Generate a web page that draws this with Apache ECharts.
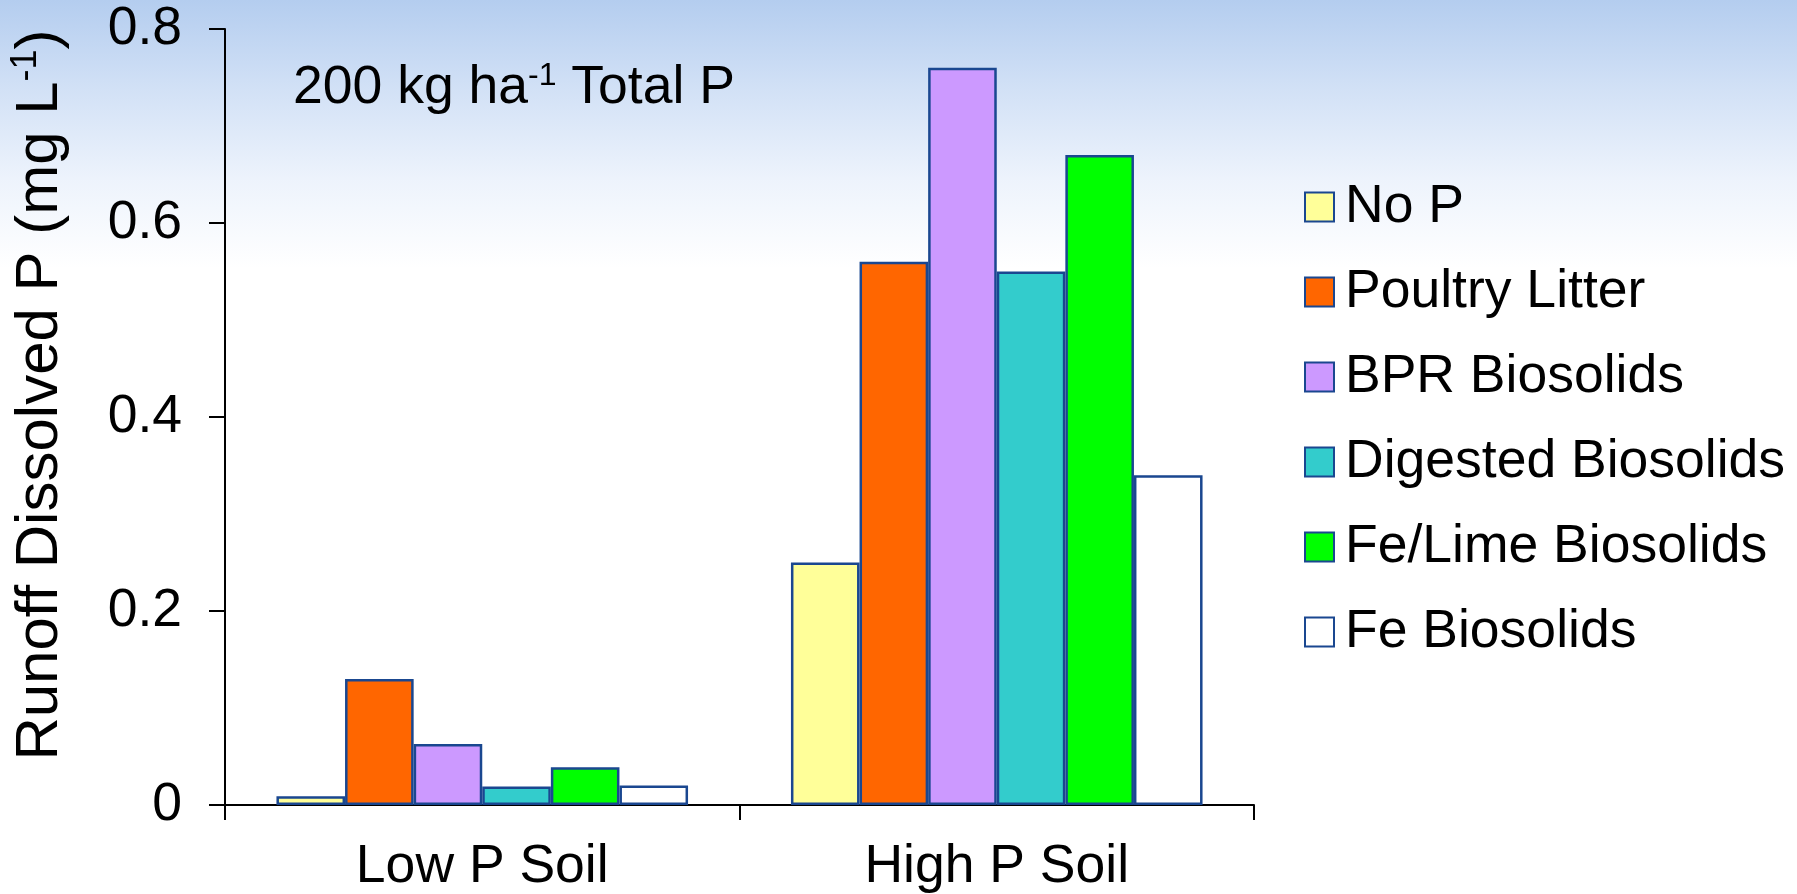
<!DOCTYPE html>
<html>
<head>
<meta charset="utf-8">
<script src="https://cdn.jsdelivr.net/npm/echarts@6/dist/echarts.min.js"></script>
<style>
html,body{margin:0;padding:0;background:#fff;}
#chart{width:1797px;height:894px;}
</style>
</head>
<body>
<div id="chart"></div>
<script>
// ---- data ----
var categories = ['Low P Soil', 'High P Soil'];
var seriesNames = ['No P', 'Poultry Litter', 'BPR Biosolids', 'Digested Biosolids', 'Fe/Lime Biosolids', 'Fe Biosolids'];
var noP       = [0.009, 0.25];
var poultry   = [0.13, 0.56];
var bpr       = [0.063, 0.76];
var digested  = [0.019, 0.55];
var feLime    = [0.039, 0.67];
var fe        = [0.02, 0.34];
var yTicks    = [0, 0.2, 0.4, 0.6, 0.8];
var seriesValues = [noP, poultry, bpr, digested, feLime, fe];
var seriesColors = ['#FFFF99', '#FF6600', '#CC99FF', '#33CCCC', '#00FF00', '#FFFFFF'];

var FONT = '"Liberation Sans", Arial, Helvetica, sans-serif';
var BORDER = '#1A4790';
var FS = 53.5;

var chart = echarts.init(document.getElementById('chart'), null, {renderer: 'canvas'});

var series = seriesNames.map(function (name, i) {
  return {
    name: name,
    type: 'bar',
    data: seriesValues[i],
    barGap: '0%',
    barCategoryGap: '20%',
    itemStyle: { color: seriesColors[i], borderColor: BORDER, borderWidth: 2.5 },
    emphasis: { disabled: true },
    animation: false
  };
});

var option = {
  animation: false,
  backgroundColor: {
    type: 'linear', x: 0, y: 0, x2: 0, y2: 1,
    colorStops: [
      { offset: 0, color: '#B4CDEF' },
      { offset: 0.1, color: '#D2E1F6' },
      { offset: 0.2, color: '#EDF3FC' },
      { offset: 0.3, color: '#FFFFFF' },
      { offset: 1, color: '#FFFFFF' }
    ]
  },
  textStyle: { fontFamily: FONT },
  grid: { left: 225, right: 543, top: 29, bottom: 89, containLabel: false },
  legend: {
    orient: 'vertical',
    left: 1304,
    top: 179,
    padding: 0,
    itemWidth: 29,
    itemHeight: 29,
    itemGap: 29,
    icon: 'rect',
    data: seriesNames,
    selectedMode: false,
    textStyle: { fontFamily: FONT, fontSize: FS, color: '#000', lineHeight: 56, padding: [0, 0, 0, 6] }
  },
  xAxis: {
    type: 'category',
    data: categories,
    boundaryGap: true,
    axisLine: { lineStyle: { color: '#000', width: 2 } },
    axisTick: { show: true, length: 15, inside: false, alignWithLabel: false, lineStyle: { color: '#000', width: 2 } },
    axisLabel: { fontFamily: FONT, fontSize: FS, color: '#000', margin: 35 },
    splitLine: { show: false }
  },
  yAxis: {
    type: 'value',
    min: yTicks[0],
    max: yTicks[yTicks.length - 1],
    interval: 0.2,
    axisLine: { show: true, lineStyle: { color: '#000', width: 2 } },
    axisTick: { show: true, length: 16, inside: false, lineStyle: { color: '#000', width: 2 } },
    axisLabel: { fontFamily: FONT, fontSize: FS, color: '#000', margin: 43 },
    splitLine: { show: false }
  },
  graphic: [
    {
      type: 'text',
      x: 293,
      y: 88,
      silent: true,
      style: {
        text: '{m|200 kg ha}{s|-1}{m| Total P}',
        align: 'left',
        verticalAlign: 'middle',
        fill: '#000',
        rich: {
          m: { fontFamily: FONT, fontSize: FS, lineHeight: 56, fill: '#000' },
          s: { fontFamily: FONT, fontSize: 32, lineHeight: 32, verticalAlign: 'top', fill: '#000' }
        }
      }
    },
    {
      type: 'text',
      x: 40,
      y: 395,
      rotation: Math.PI / 2,
      silent: true,
      style: {
        text: '{m|Runoff Dissolved P (mg L}{s|-1}{m|)}',
        align: 'center',
        verticalAlign: 'middle',
        fill: '#000',
        rich: {
          m: { fontFamily: FONT, fontSize: 60, lineHeight: 64, fill: '#000' },
          s: { fontFamily: FONT, fontSize: 36, lineHeight: 36, verticalAlign: 'top', fill: '#000' }
        }
      }
    }
  ],
  series: series
};

chart.setOption(option);
</script>
</body>
</html>
